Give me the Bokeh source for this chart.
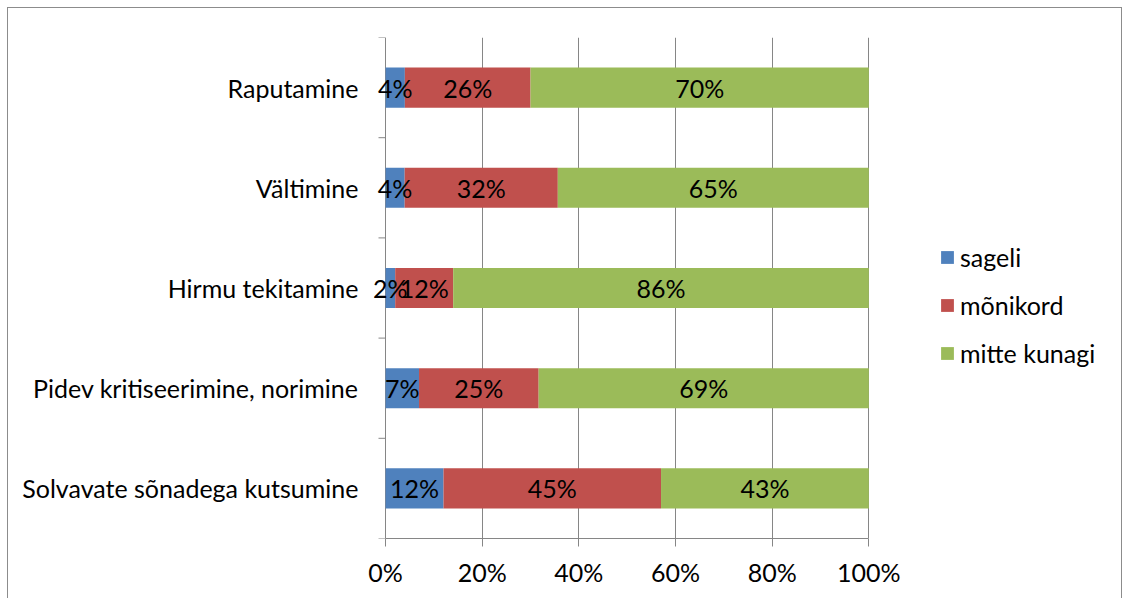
from bokeh.plotting import figure
from bokeh.models import FixedTicker, Legend, LegendItem, ColumnDataSource
from bokeh.core.properties import value
from bokeh.embed import file_html
from bokeh.resources import INLINE

categories = ["Raputamine", "Vältimine", "Hirmu tekitamine",
              "Pidev kritiseerimine, norimine", "Solvavate sõnadega kutsumine"]
series_names = ["sageli", "mõnikord", "mitte kunagi"]
sageli = [4, 4, 2, 7, 12]
monikord = [26, 32, 12, 25, 45]
mitte_kunagi = [70, 65, 86, 69, 43]
x_ticks = [0, 0.2, 0.4, 0.6, 0.8, 1.0]
x_tick_labels = ["0%", "20%", "40%", "60%", "80%", "100%"]
colors = ["#4F81BD", "#C0504D", "#9BBB59"]

FONT = "Lato"
FS = "25px"
GRID = "#868686"
PX = 482.0          # pixels per 100 %
LEFT_PAD = 12       # room left of 0 % for data labels
FRAME_W = 727

n = len(categories)
ypos = [n - 0.5 - i for i in range(n)]
totals = [a + b + c for a, b, c in zip(sageli, monikord, mitte_kunagi)]
fr = {
    "sageli": [a / t for a, t in zip(sageli, totals)],
    "mõnikord": [b / t for b, t in zip(monikord, totals)],
    "mitte kunagi": [c / t for c, t in zip(mitte_kunagi, totals)],
}
src = ColumnDataSource(dict(y=ypos, **fr))

x0 = -LEFT_PAD / PX
x1 = x0 + FRAME_W / PX
p = figure(width=1115, height=591, output_backend="svg", toolbar_location=None,
           x_range=(x0, x1), y_range=(0, n),
           min_border_left=365, min_border_right=1115 - 2 - 365 - FRAME_W,
           min_border_top=29, min_border_bottom=61)
p.styles = {"margin": "7px 0 0 7px", "border": "1px solid #8c8c8c",
            "border-bottom": "none", "box-sizing": "border-box"}
p.outline_line_color = None
p.background_fill_color = "white"

# category separator ticks on the value axis at x = 0
tick_len = 7 / PX
p.segment(x0=[-tick_len] * (n + 1), x1=[0] * (n + 1), y0=list(range(n + 1)),
          y1=list(range(n + 1)), line_color=GRID, line_width=1)

renderers = p.hbar_stack(series_names, y="y", height=0.4, color=colors,
                         line_color=None, source=src)

# data labels
raw = [sageli, monikord, mitte_kunagi]
lx, ly, lt = [], [], []
for i in range(n):
    left = 0.0
    for s, name in enumerate(series_names):
        w = fr[name][i]
        lx.append(left + w / 2)
        ly.append(ypos[i])
        lt.append(f"{raw[s][i]}%")
        left += w
p.text(x=lx, y=ly, text=lt, text_align="center", text_baseline="middle",
       text_font=value(FONT), text_font_size=FS, text_color="black")

# x axis
xa = p.xaxis[0]
xa.ticker = FixedTicker(ticks=x_ticks)
xa.bounds = (0, 1)
xa.major_label_overrides = {t: l for t, l in zip(x_ticks, x_tick_labels)}
xa.axis_line_color = GRID
xa.major_tick_line_color = GRID
xa.major_tick_out = 8
xa.major_tick_in = 0
xa.minor_tick_line_color = None
xa.minor_tick_out = 0
xa.major_label_text_font = FONT
xa.major_label_text_font_size = FS
xa.major_label_text_color = "black"
xa.major_label_standoff = 10

# y axis (labels only; line is the 0 % grid line)
ya = p.yaxis[0]
ya.ticker = FixedTicker(ticks=ypos)
ya.major_label_overrides = {y: c for y, c in zip(ypos, categories)}
ya.axis_line_color = None
ya.major_tick_line_color = None
ya.major_tick_out = 0
ya.major_tick_in = 0
ya.minor_tick_line_color = None
ya.minor_tick_out = 0
ya.minor_tick_in = 0
ya.major_label_text_font = FONT
ya.major_label_text_font_size = FS
ya.major_label_text_color = "black"
ya.major_label_standoff = 15

p.xgrid.ticker = FixedTicker(ticks=x_ticks)
p.xgrid.grid_line_color = GRID
p.xgrid.bounds = (0, n)
p.ygrid.grid_line_color = None

legend = Legend(items=[LegendItem(label=nm, renderers=[r]) for nm, r in zip(series_names, renderers)],
                location=(566, 170), orientation="vertical",
                border_line_color=None, background_fill_alpha=0,
                padding=0, margin=0, spacing=18, label_standoff=5,
                glyph_width=16, glyph_height=16, label_height=20,
                label_text_font=FONT, label_text_font_size=FS, label_text_color="black")
p.add_layout(legend)

open("out.html", "w").write(file_html(p, INLINE))
